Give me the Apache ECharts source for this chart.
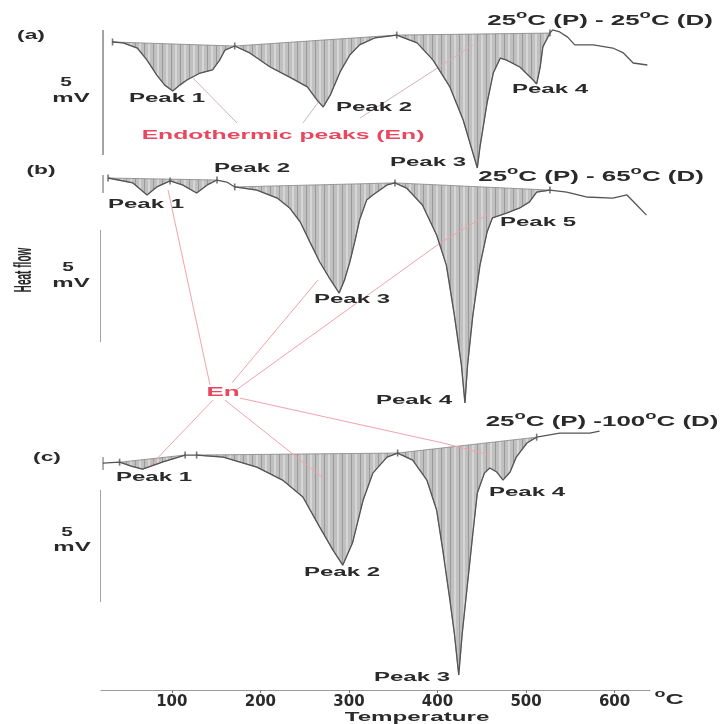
<!DOCTYPE html>
<html><head><meta charset="utf-8">
<script src="https://cdn.jsdelivr.net/npm/echarts@6/dist/echarts.min.js"></script>
<style>html,body{margin:0;padding:0;background:#fff}#c{width:720px;height:724px}</style>
</head><body><div id="c"></div>
<script>
// ---------- data (temperature in °C, heat flow in mV relative to each trace's start) ----------
const TEMP_TICKS = [100, 200, 300, 400, 500, 600];

// (a) 25°C (P) - 25°C (D)
const CURVE_A = [
  [33,0],[45,-0.04],[61,-0.27],[72,-0.81],[83,-1.48],[92,-1.93],[101,-2.19],[109,-1.93],[117,-1.70],
  [132,-1.39],[146,-1.25],[154,-0.81],[160,-0.36],[171,-0.18],
  [188,-0.49],[211,-1.12],[233,-1.57],[253,-2.01],[264,-2.60],[271,-2.91],[279,-2.37],[290,-1.34],
  [301,-0.58],[312,-0.13],[329,0.18],[354,0.31],
  [377,-0.04],[395,-0.81],[414,-2.01],[429,-3.49],[440,-4.97],[445,-5.64],[448,-4.70],[456,-2.73],
  [463,-1.39],[471,-0.72],[478,-0.81],[493,-1.12],[508,-1.70],[512,-1.88],[516,-1.12],[519,-0.22],[527,0.40],
  [530,0.54],[538,0.45],[547,0.22],[555,-0.13],[576,-0.13],[598,-0.27],[610,-0.49],[621,-0.94],[637,-1.03]
];
// (b) 25°C (P) - 65°C (D)
const CURVE_B = [
  [28,0],[56,-0.22],[72,-0.76],[83,-0.40],[98,-0.13],[112,-0.31],[128,-0.67],[140,-0.31],[151,-0.09],
  [162,-0.18],[171,-0.40],[196,-0.54],[219,-0.90],[233,-1.34],[245,-1.97],[256,-2.87],[267,-3.76],
  [278,-4.48],[289,-5.15],[295,-4.57],[301,-3.76],[307,-2.78],[312,-1.88],[320,-0.99],[327,-0.76],
  [343,-0.31],[352,-0.22],[365,-0.45],[383,-1.21],[399,-2.55],[410,-3.90],[419,-6.13],[427,-8.37],
  [431,-10.07],[434,-8.37],[440,-6.13],[448,-3.90],[456,-2.42],[462,-1.79],[478,-1.57],[493,-1.34],
  [504,-1.07],[512,-0.63],[527,-0.54],[546,-0.63],[568,-0.85],[598,-0.90],[614,-0.76],[625,-1.21],[636,-1.66]
];
// (c) 25°C (P) - 100°C (D)
const CURVE_C = [
  [22,0],[41,0.04],[55,-0.15],[67,-0.27],[90,0.05],[115,0.36],[128,0.36],[158,0.27],[196,-0.18],
  [225,-0.76],[248,-1.52],[267,-2.87],[282,-3.90],[293,-4.57],[304,-3.58],[316,-1.66],[327,-0.45],
  [343,0.27],[355,0.45],[372,0.13],[388,-0.76],[399,-2.10],[406,-3.90],[414,-6.13],[419,-7.61],
  [424,-9.49],[428,-7.61],[434,-5.37],[440,-3.13],[445,-1.34],[453,-0.45],[459,-0.22],[467,-0.40],
  [474,-0.76],[482,-0.40],[489,0.27],[501,0.90],[512,1.16],[538,1.34],[572,1.34],[583,1.43]
];
// vertical placement of each trace in the stacked plot (mV)
const BASE_A = -0.985, BASE_B = -7.075, BASE_C = -19.84;

// integrated (shaded) peak regions: [start °C, end °C]
const REGIONS_A = [[33,171],[171,354],[354,527]];
const REGIONS_B = [[28,151],[171,352],[352,527]];
const REGIONS_C = [[41,115],[128,355],[355,512]];
// integration limit markers (°C)
const MARKS_A = [33,171,354,527];
const MARKS_B = [28,98,151,171,352,527];
const MARKS_C = [41,115,128,355,512];

// 5 mV scale bars and small brackets: [[T, mV],[T, mV]]
const SCALE_BARS = [
  [[22.3,-0.45],[22.3,-6.04]],
  [[18.9,-9.40],[18.9,-14.42]],
  [[18.9,-21.05],[18.9,-26.06]]
];
const BRACKETS = [
  [[22.3,-6.94],[22.3,-7.75]],
  [[22.3,-19.57],[22.3,-20.15]]
];
// leader lines from "Endothermic peaks (En)"
const LEADS_TOP = [
  [[173.6,-4.61],[123.9,-2.60]],
  [[248.1,-4.61],[267.3,-3.58]],
  [[312.5,-4.39],[440.1,-1.12]]
];
// leader lines from "En"
const LEADS_EN = [
  [[143.1,-16.34],[95.7,-7.61]],
  [[167.9,-16.25],[265.1,-11.64]],
  [[172.5,-16.57],[402.8,-9.99]],
  [[402.8,-9.99],[459.3,-8.64]],
  [[146.5,-17.02],[75.3,-19.97]],
  [[160.0,-17.02],[270.7,-20.51]],
  [[177.0,-16.93],[406.2,-18.94]],
  [[406.2,-18.94],[459.3,-19.48]]
];

// ---------- build ----------
const shift = (curve, base) => curve.map(p => [p[0], p[1] + base]);
const A = shift(CURVE_A, BASE_A), B = shift(CURVE_B, BASE_B), C = shift(CURVE_C, BASE_C);
const regionPts = (curve, regs) => regs.map(r => curve.filter(p => p[0] >= r[0] && p[0] <= r[1]));
const ALL_REGIONS = [].concat(regionPts(A, REGIONS_A), regionPts(B, REGIONS_B), regionPts(C, REGIONS_C));
const markPts = (curve, ts) => ts.map(t => curve.find(p => p[0] === t)).filter(Boolean);
const MARK_POINTS = [].concat(markPts(A, MARKS_A), markPts(B, MARKS_B), markPts(C, MARKS_C));

function hatch() {
  const c = document.createElement('canvas'); c.width = 9; c.height = 6;
  const x = c.getContext('2d');
  x.fillStyle = '#c0c0c0'; x.fillRect(0, 0, 9, 6);
  x.fillStyle = '#9a9a9a'; x.fillRect(0, 0, 1, 6);
  x.fillStyle = '#d6d6d6'; x.fillRect(4, 0, 2, 6);
  return c;
}
const PAT = { image: hatch(), repeat: 'repeat' };

const FF = '"Liberation Sans", Arial, sans-serif';
function txt(x, y, text, o) {
  o = o || {};
  const size = o.size || 12;
  const st = {
    text: text, fontSize: size, fontWeight: o.weight || 'bold', fontFamily: FF,
    fill: o.color || '#2a2a2a', align: 'center', verticalAlign: 'middle'
  };
  if (o.rich) st.rich = o.rich;
  return { type: 'text', x: x, y: y, scaleX: o.sx || 1.9, scaleY: o.sy || 1, rotation: o.rot || 0, z: 20, silent: true, style: st };
}
function supRich(size) {
  return {
    n: { fontSize: size, fontWeight: 'bold', fontFamily: FF, fill: '#2a2a2a', lineHeight: 22 },
    s: { fontSize: size - 4, fontWeight: 'bold', fontFamily: FF, fill: '#2a2a2a', lineHeight: 10, verticalAlign: 'top' }
  };
}
const RED = '#e8475f';

const lineSeries = (pts, color, width, z) => ({
  type: 'line', data: pts, symbol: 'none', silent: true, clip: false, z: z || 3,
  lineStyle: { color: color, width: width }, animation: false
});

const series = [
  {
    type: 'custom', coordinateSystem: 'cartesian2d', z: 1, silent: true, animation: false,
    data: ALL_REGIONS.map((r, i) => [r[0][0], r[0][1], i]),
    encode: { x: 0, y: 1 },
    renderItem: function (params, api) {
      const r = ALL_REGIONS[params.dataIndex];
      return { type: 'polygon', shape: { points: r.map(p => api.coord(p)) },
        style: { fill: PAT, stroke: '#858585', lineWidth: 0.8 } };
    }
  },
  lineSeries(A, '#555', 1.3, 4),
  lineSeries(B, '#555', 1.3, 4),
  lineSeries(C, '#555', 1.3, 4),
  {
    type: 'scatter', data: MARK_POINTS, symbol: 'rect', symbolSize: [1.6, 7], silent: true, z: 5,
    itemStyle: { color: '#555' }, animation: false
  }
];
SCALE_BARS.forEach(s => series.push(lineSeries(s, '#8f8f8f', 1.6, 3)));
BRACKETS.forEach(s => series.push(lineSeries(s, '#8f8f8f', 1.4, 3)));
LEADS_TOP.forEach(s => series.push(lineSeries(s, '#d4b2b7', 1, 2)));
LEADS_EN.forEach(s => series.push(lineSeries(s, '#f2a2ad', 1, 2)));

const graphics = [
  txt(31, 35, '(a)', { size: 13, sx: 1.75 }),
  txt(41, 170, '(b)', { size: 13, sx: 1.75 }),
  txt(47, 457, '(c)', { size: 13, sx: 1.75 }),
  txt(66, 82, '5', { size: 13, sx: 1.6 }), txt(71, 98, 'mV', { size: 13, sx: 1.85 }),
  txt(68, 267, '5', { size: 13, sx: 1.6 }), txt(71, 283, 'mV', { size: 13, sx: 1.85 }),
  txt(67, 532, '5', { size: 13, sx: 1.6 }), txt(72, 547, 'mV', { size: 13, sx: 1.85 }),
  txt(24, 270, 'Heat flow', { size: 14, weight: 'bold', sx: 0.72, sy: 1.75, rot: Math.PI / 2 }),
  // (a)
  txt(167, 99, 'Peak 1', { sx: 2.0 }),
  txt(374, 108, 'Peak 2', { sx: 2.0 }),
  txt(428, 163, 'Peak 3', { sx: 2.0 }),
  txt(550, 90, 'Peak 4', { sx: 2.0 }),
  txt(600, 21, '{n|25}{s|o}{n|C (P) - 25}{s|o}{n|C (D)}', { rich: supRich(14), sx: 1.85 }),
  txt(283, 135, 'Endothermic peaks (En)', { size: 13, color: RED, sx: 1.9 }),
  // (b)
  txt(146, 205, 'Peak 1', { sx: 2.0 }),
  txt(252, 169, 'Peak 2', { sx: 2.0 }),
  txt(352, 300, 'Peak 3', { sx: 2.0 }),
  txt(414, 401, 'Peak 4', { sx: 2.0 }),
  txt(538, 223, 'Peak 5', { sx: 2.0 }),
  txt(591, 177, '{n|25}{s|o}{n|C (P) - 65}{s|o}{n|C (D)}', { rich: supRich(14), sx: 1.85 }),
  txt(223, 392, 'En', { size: 13, color: RED, sx: 2.0 }),
  // (c)
  txt(154, 478, 'Peak 1', { sx: 2.0 }),
  txt(342, 573, 'Peak 2', { sx: 2.0 }),
  txt(412, 678, 'Peak 3', { sx: 2.0 }),
  txt(527, 493, 'Peak 4', { sx: 2.0 }),
  txt(602, 422, '{n|25}{s|o}{n|C (P) -100}{s|o}{n|C (D)}', { rich: supRich(14), sx: 1.85 }),
  // axis
  txt(669, 700, '{s|o}{n|C}', { rich: supRich(14), sx: 1.8 }),
  txt(417, 717, 'Temperature', { size: 13, sx: 1.86 })
];

const chart = echarts.init(document.getElementById('c'), null, { renderer: 'canvas' });
chart.setOption({
  animation: false,
  backgroundColor: '#fff',
  grid: { left: 101, right: 70, top: 20, bottom: 34 },
  xAxis: {
    type: 'value', min: 20, max: 640, position: 'bottom',
    axisLine: { onZero: false, lineStyle: { color: '#9a9a9a', width: 1.2 } },
    axisTick: { customValues: TEMP_TICKS, length: 3, lineStyle: { color: '#777' } },
    axisLabel: { customValues: TEMP_TICKS, color: '#2a2a2a', fontWeight: 'bold', fontSize: 15, fontFamily: '"DejaVu Sans", sans-serif', margin: 5 },
    splitLine: { show: false }
  },
  yAxis: { type: 'value', min: -30, max: 0, show: false },
  series: series,
  graphic: graphics
});
</script></body></html>
